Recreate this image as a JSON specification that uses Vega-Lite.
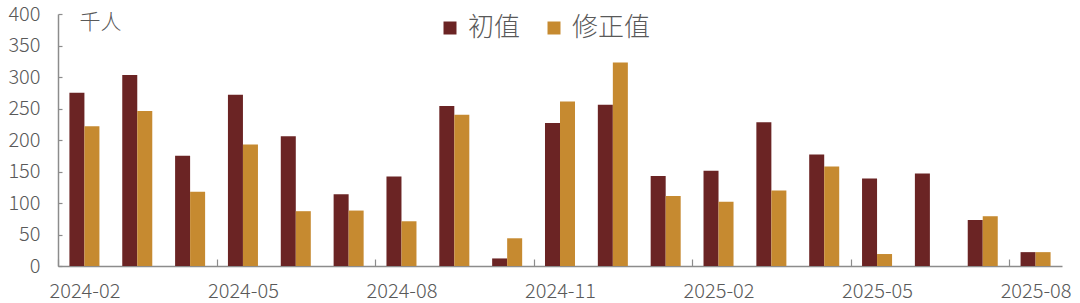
{
  "$schema": "https://vega.github.io/schema/vega-lite/v6.json",
  "width": 1004,
  "height": 252,
  "autosize": {"type": "none"},
  "padding": {"left": 58, "top": 14, "right": 18, "bottom": 37},
  "background": "white",
  "config": {
    "view": {"stroke": null},
    "font": "Noto Sans CJK SC",
    "axis": {
      "labelFont": "Noto Sans CJK SC",
      "labelFontWeight": 300,
      "labelColor": "#595959",
      "labelFontSize": 20,
      "domainColor": "#8c8c8c",
      "tickColor": "#8c8c8c",
      "domainWidth": 1.5,
      "tickWidth": 1.2,
      "grid": false
    }
  },
  "data": {
    "values": [
      {"month": "2024-02", "series": "初值", "value": 275},
      {"month": "2024-02", "series": "修正值", "value": 222},
      {"month": "2024-03", "series": "初值", "value": 303},
      {"month": "2024-03", "series": "修正值", "value": 246},
      {"month": "2024-04", "series": "初值", "value": 175},
      {"month": "2024-04", "series": "修正值", "value": 118},
      {"month": "2024-05", "series": "初值", "value": 272},
      {"month": "2024-05", "series": "修正值", "value": 193},
      {"month": "2024-06", "series": "初值", "value": 206},
      {"month": "2024-06", "series": "修正值", "value": 87},
      {"month": "2024-07", "series": "初值", "value": 114},
      {"month": "2024-07", "series": "修正值", "value": 88},
      {"month": "2024-08", "series": "初值", "value": 142},
      {"month": "2024-08", "series": "修正值", "value": 71},
      {"month": "2024-09", "series": "初值", "value": 254},
      {"month": "2024-09", "series": "修正值", "value": 240},
      {"month": "2024-10", "series": "初值", "value": 12},
      {"month": "2024-10", "series": "修正值", "value": 44},
      {"month": "2024-11", "series": "初值", "value": 227},
      {"month": "2024-11", "series": "修正值", "value": 261},
      {"month": "2024-12", "series": "初值", "value": 256},
      {"month": "2024-12", "series": "修正值", "value": 323},
      {"month": "2025-01", "series": "初值", "value": 143},
      {"month": "2025-01", "series": "修正值", "value": 111},
      {"month": "2025-02", "series": "初值", "value": 151},
      {"month": "2025-02", "series": "修正值", "value": 102},
      {"month": "2025-03", "series": "初值", "value": 228},
      {"month": "2025-03", "series": "修正值", "value": 120},
      {"month": "2025-04", "series": "初值", "value": 177},
      {"month": "2025-04", "series": "修正值", "value": 158},
      {"month": "2025-05", "series": "初值", "value": 139},
      {"month": "2025-05", "series": "修正值", "value": 19},
      {"month": "2025-06", "series": "初值", "value": 147},
      {"month": "2025-06", "series": "修正值", "value": null},
      {"month": "2025-07", "series": "初值", "value": 73},
      {"month": "2025-07", "series": "修正值", "value": 79},
      {"month": "2025-08", "series": "初值", "value": 22},
      {"month": "2025-08", "series": "修正值", "value": 22}
    ]
  },
  "mark": {"type": "bar"},
  "encoding": {
    "x": {
      "field": "month",
      "type": "ordinal",
      "scale": {"paddingInner": 0.432, "paddingOuter": 0.216},
      "axis": {
        "title": null,
        "labelAngle": 0,
        "values": ["2024-02", "2024-05", "2024-08", "2024-11", "2025-02", "2025-05", "2025-08"],
        "tickOffset": -26.42,
        "labelOffset": 26.42,
        "tickSize": -7,
        "labelPadding": 22,
        "labelOverlap": false
      }
    },
    "xOffset": {
      "field": "series",
      "type": "nominal",
      "scale": {"domain": ["初值", "修正值"], "paddingInner": 0, "paddingOuter": 0}
    },
    "y": {
      "field": "value",
      "type": "quantitative",
      "scale": {"domain": [0, 400], "nice": false},
      "axis": {
        "values": [0, 50, 100, 150, 200, 250, 300, 350, 400],
        "tickSize": -4,
        "labelPadding": 22,
        "title": "千人",
        "titleAngle": 0,
        "titleAlign": "left",
        "titleBaseline": "middle",
        "titleX": 21,
        "titleY": 8,
        "titleFont": "Noto Sans CJK SC",
        "titleFontWeight": 300,
        "titleFontSize": 21,
        "titleColor": "#595959"
      }
    },
    "color": {
      "field": "series",
      "type": "nominal",
      "scale": {"domain": ["初值", "修正值"], "range": ["#6B2424", "#C68A30"]},
      "legend": {
        "title": null,
        "orient": "none",
        "direction": "horizontal",
        "legendX": 379,
        "legendY": 1,
        "symbolType": "square",
        "symbolSize": 169,
        "symbolStrokeWidth": 0,
        "labelFont": "Noto Sans CJK SC",
        "labelFontWeight": 300,
        "labelFontSize": 26,
        "labelColor": "#595959",
        "labelOffset": 5,
        "columnPadding": 20
      }
    }
  }
}
